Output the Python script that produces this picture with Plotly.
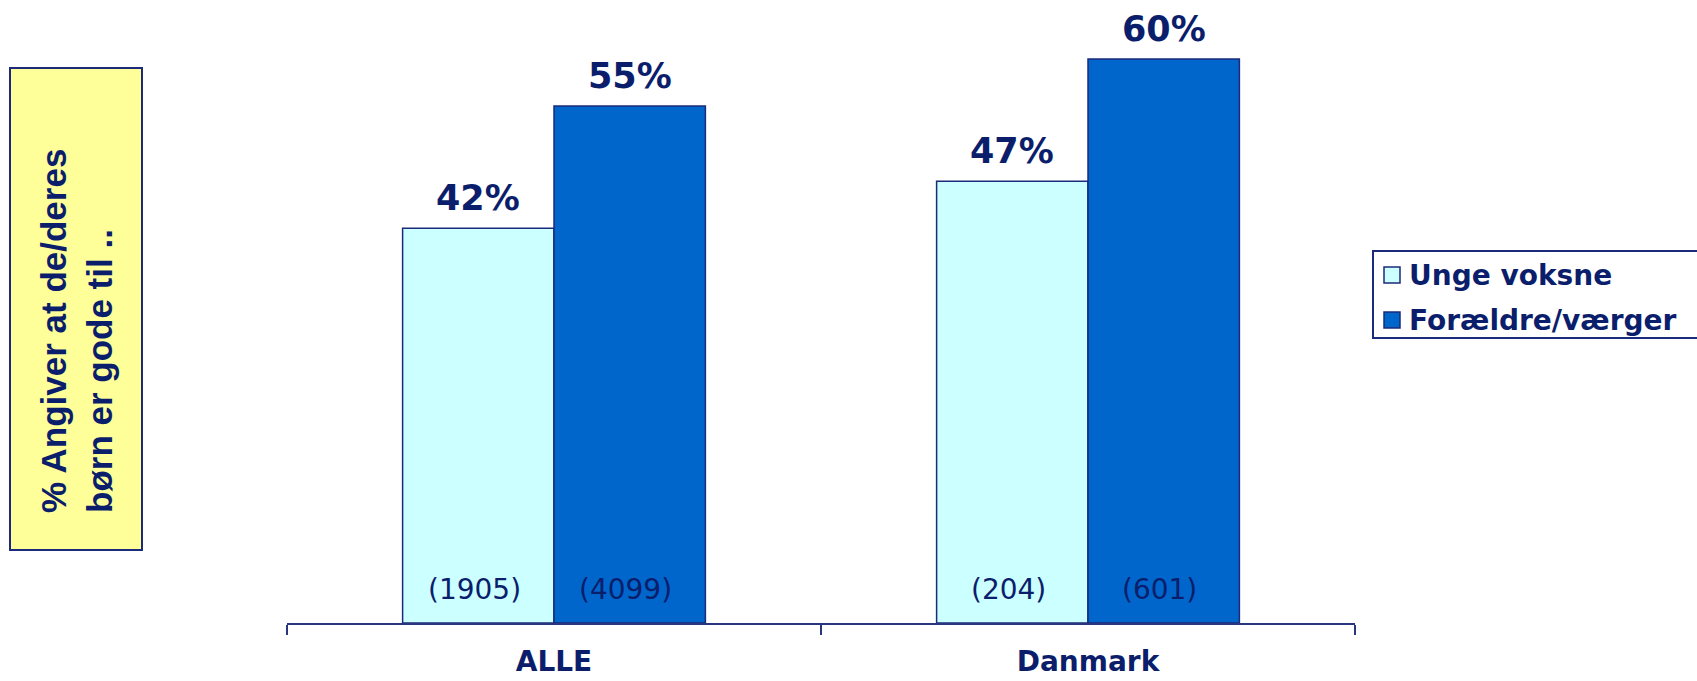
import plotly.graph_objects as go

# --- data ---
categories = ["ALLE", "Danmark"]
series_names = ["Unge voksne", "Forældre/værger"]
unge_voksne = [42, 47]
foraeldre = [55, 60]
n_unge = [1905, 204]
n_foraeldre = [4099, 601]
y_title = "% Angiver at de/deres<br>børn er gode til .."

# --- style ---
W, H = 1697, 681
ML, MR, MT, MB = 287, 342, 12, 58
NAVY = "#0B1E6B"
EDGE = "#1B2A7A"
COLORS = ["#CCFFFF", "#0066CC"]
BARGAP = 0.433
Y_MAX = 65

PW = W - ML - MR
PH = H - MT - MB
cat_w = PW / len(categories)
bar_w = cat_w * (1 - BARGAP) / 2


def px_x(p):
    return (p - ML) / PW


def px_y(p):
    return (H - MB - p) / PH


fig = go.Figure()
all_values = [unge_voksne, foraeldre]
all_counts = [n_unge, n_foraeldre]
for name, vals, col in zip(series_names, all_values, COLORS):
    fig.add_trace(go.Bar(
        x=categories, y=vals, name=name,
        marker=dict(color=col, line=dict(color=EDGE, width=1.5)),
        showlegend=False, hoverinfo="skip",
    ))

annotations = []
for j, (vals, counts) in enumerate(zip(all_values, all_counts)):
    shift = (j - 0.5) * bar_w
    for cat, v, n in zip(categories, vals, counts):
        annotations.append(dict(
            x=cat, y=v, xref="x", yref="y", xshift=shift, yshift=30,
            text=f"{v}%", showarrow=False, yanchor="middle",
            font=dict(family="DejaVu Sans", size=35, color=NAVY, weight="bold"),
        ))
        annotations.append(dict(
            x=cat, y=0, xref="x", yref="y", xshift=shift - 4, yshift=34,
            text=f"({n})", showarrow=False, yanchor="middle",
            font=dict(family="DejaVu Sans", size=28, color=NAVY),
        ))

# y-axis title in a yellow box
shapes = [dict(
    type="rect", xref="paper", yref="paper",
    x0=px_x(10), x1=px_x(142), y0=px_y(550), y1=px_y(68),
    fillcolor="#FFFF99", line=dict(color=EDGE, width=2), layer="below",
)]
annotations.append(dict(
    x=px_x(76), y=px_y(331), xref="paper", yref="paper",
    text=y_title, textangle=-90, showarrow=False, align="left",
    xanchor="center", yanchor="middle",
    font=dict(family="Liberation Sans", size=35, color=NAVY, weight="bold"),
))

# legend box
shapes.append(dict(
    type="rect", xref="paper", yref="paper",
    x0=px_x(1373), x1=px_x(1715), y0=px_y(338), y1=px_y(251),
    fillcolor="white", line=dict(color=EDGE, width=2),
))
for k, (name, col) in enumerate(zip(series_names, COLORS)):
    cy = 275 + k * 45
    shapes.append(dict(
        type="rect", xref="paper", yref="paper",
        x0=px_x(1384), x1=px_x(1400), y0=px_y(cy + 8), y1=px_y(cy - 8),
        fillcolor=col, line=dict(color=EDGE, width=1.5),
    ))
    annotations.append(dict(
        x=px_x(1407), y=px_y(cy), xref="paper", yref="paper",
        text=name, showarrow=False, xanchor="left", yanchor="middle",
        font=dict(family="DejaVu Sans", size=28, color=NAVY, weight="bold"),
    ))

fig.update_layout(
    width=W, height=H,
    margin=dict(l=ML, r=MR, t=MT, b=MB, pad=0, autoexpand=False),
    paper_bgcolor="white", plot_bgcolor="white",
    barmode="group", bargap=BARGAP, bargroupgap=0,
    shapes=shapes, annotations=annotations,
    showlegend=False,
    xaxis=dict(
        type="category", showgrid=False, zeroline=False, automargin=False,
        showline=True, linecolor="#2A3580", linewidth=1.5,
        ticks="outside", tickson="boundaries", ticklen=10,
        tickcolor="#2A3580", tickwidth=1.5, ticklabelstandoff=13,
        tickfont=dict(family="DejaVu Sans", size=28, color=NAVY, weight="bold"),
        fixedrange=True,
    ),
    yaxis=dict(range=[0, Y_MAX], visible=False, fixedrange=True),
)

fig.write_html("out.html", config={"displayModeBar": False})
